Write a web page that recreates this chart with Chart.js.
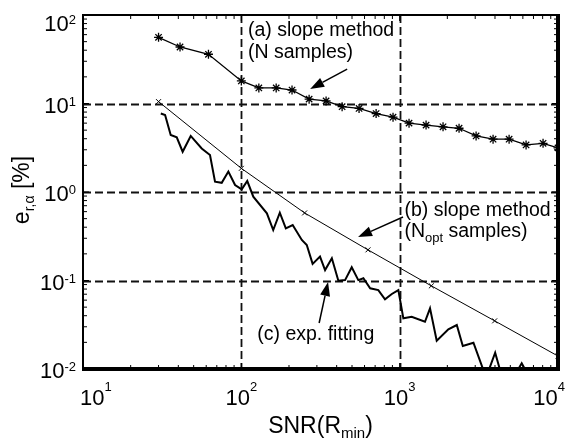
<!DOCTYPE html>
<html>
<head>
<meta charset="utf-8">
<script src="https://cdn.jsdelivr.net/npm/chart.js@4.4.1/dist/chart.umd.min.js"></script>
<style>
  body { margin:0; background:#fff; }
  canvas { display:block; }
</style>
</head>
<body>
<canvas id="grafico" width="565" height="441"></canvas>
<script>
    // Dados (SNR x erro em %)
    const snrA = [30, 41, 62, 100, 129, 166, 209, 268, 343, 433, 554, 710, 908, 1146, 1468, 1879, 2372, 3039, 3890, 4911, 6286, 8047, 10000];
    const errA = [56, 43.5, 36, 18, 15, 15, 14.2, 11.2, 10.7, 9.2, 8.8, 7.7, 7.0, 6.0, 5.7, 5.45, 5.25, 4.3, 3.95, 3.95, 3.4, 3.55, 3.15];

    const snrB = [30, 100, 251, 631, 1585, 3981, 10000];
    const errB = [10.5, 1.85, 0.58, 0.222, 0.087, 0.035, 0.014];

    const snrC = [31, 33, 35.8, 39.1, 42.6, 47.9, 56.2, 63.4, 68.2, 75.2, 82.8, 91.3, 100.6, 109, 119, 145, 159, 175, 191, 211,
                  241, 259, 282, 314, 338, 373, 410, 452, 498, 548, 590, 651, 733, 808, 892, 981, 1055, 1191, 1445, 1555,
                  1714, 2030, 2295, 2505, 2924, 3515, 4010, 4440, 5430, 5900, 6380, 10000];
    const errC = [7.7, 7.4, 4.4, 4.15, 2.85, 4.3, 3.1, 2.62, 1.31, 1.27, 1.70, 1.20, 1.07, 1.33, 0.885, 0.574, 0.372, 0.583, 0.389, 0.424,
                  0.287, 0.252, 0.154, 0.186, 0.131, 0.178, 0.0995, 0.101, 0.141, 0.101, 0.106, 0.0817, 0.078, 0.0614, 0.0704, 0.078,
                  0.0374, 0.039, 0.0342, 0.0485, 0.0209, 0.0281, 0.0314, 0.0182, 0.0198, 0.008, 0.0153, 0.008, 0.009, 0.0116, 0.009, 0.006];

    const xTicks = [10, 100, 1000, 10000];
    const xExp = ["1", "2", "3", "4"];
    const yTicks = [100, 10, 1, 0.1, 0.01];
    const yExp = ["2", "1", "0", "-1", "-2"];
    const xGrid = [100, 1000];
    const yGrid = [10, 1, 0.1];

    // Anotações (posição em coordenadas dos dados)
    const notas = [
      { x:110, y:57.9, dy:22, linhas:[[{t:"(a) slope method"}], [{t:"(N samples)"}]] },
      { x:1071, y:0.536, dy:21, linhas:[[{t:"(b) slope method"}], [{t:"(N"}, {t:"opt", sub:true}, {t:" samples)"}]] },
      { x:126, y:0.0213, dy:22, linhas:[[{t:"(c) exp. fitting"}]] }
    ];
    const setas = [
      { de:[466, 24.5], para:[272, 14.6] },
      { de:[1050, 0.522], para:[546, 0.31] },
      { de:[310, 0.0331], para:[353, 0.0962] }
    ];

    const FONTE = "'Liberation Sans', Arial, Helvetica, sans-serif";
    const fonte = s => s + "px " + FONTE;

    function textoRico(ctx, partes, x, y, tam, tamSub, desce, alinh) {
      let total = 0;
      partes.forEach(p => { ctx.font = fonte(p.sub ? tamSub : tam); p.w = ctx.measureText(p.t).width; total += p.w; });
      let cx = alinh === "center" ? x - total / 2 : (alinh === "right" ? x - total : x);
      ctx.textAlign = "left";
      ctx.textBaseline = "alphabetic";
      partes.forEach(p => {
        ctx.font = fonte(p.sub ? tamSub : tam);
        ctx.fillText(p.t, cx, y + (p.sub ? desce : 0));
        cx += p.w;
      });
      return total;
    }

    const pares = (xs, ys) => xs.map((v, i) => ({ x:v, y:ys[i] }));

    const eixos = {
      id: "eixos",
      beforeDatasetsDraw(chart) {
        const { ctx, chartArea:a, scales:{ x, y } } = chart;
        ctx.save();
        ctx.strokeStyle = "#111";
        ctx.lineWidth = 1.8;
        ctx.setLineDash([8, 4]);
        yGrid.forEach(v => {
          const py = Math.round(y.getPixelForValue(v)) + 0.5;
          ctx.beginPath(); ctx.moveTo(a.left, py); ctx.lineTo(a.right, py); ctx.stroke();
        });
        xGrid.forEach(v => {
          const px = Math.round(x.getPixelForValue(v)) + 0.5;
          ctx.beginPath(); ctx.moveTo(px, a.top); ctx.lineTo(px, a.bottom); ctx.stroke();
        });
        ctx.restore();
      },
      afterDatasetsDraw(chart) {
        const { ctx, chartArea:a, scales:{ x, y } } = chart;
        ctx.save();
        ctx.strokeStyle = "#000";
        ctx.fillStyle = "#000";
        ctx.setLineDash([]);

        // ticks menores e maiores
        ctx.lineWidth = 1;
        for (let d = 10; d < 10000; d *= 10) {
          for (let k = 1; k <= 9; k++) {
            const px = x.getPixelForValue(k * d);
            const len = k === 1 ? 6 : 4;
            ctx.beginPath();
            ctx.moveTo(px, a.bottom); ctx.lineTo(px, a.bottom - len);
            ctx.moveTo(px, a.top); ctx.lineTo(px, a.top + len);
            ctx.stroke();
          }
        }
        for (let d = 0.01; d < 99; d *= 10) {
          for (let k = 1; k <= 9; k++) {
            const py = y.getPixelForValue(k * d);
            const len = k === 1 ? 6 : 4;
            ctx.beginPath();
            ctx.moveTo(a.left, py); ctx.lineTo(a.left + len, py);
            ctx.moveTo(a.right, py); ctx.lineTo(a.right - len, py);
            ctx.stroke();
          }
        }

        // moldura
        ctx.lineWidth = 2;
        ctx.beginPath();
        ctx.moveTo(a.left, a.bottom); ctx.lineTo(a.left, a.top); ctx.lineTo(a.right, a.top);
        ctx.stroke();
        ctx.lineWidth = 4;
        ctx.beginPath();
        ctx.moveTo(a.left - 1, a.bottom); ctx.lineTo(a.right, a.bottom); ctx.lineTo(a.right, a.top - 1);
        ctx.stroke();

        // rótulos do eixo y
        yTicks.forEach((v, i) => {
          let py = y.getPixelForValue(v);
          if (py - 7 < a.top) py = a.top + 7;
          ctx.font = fonte(13);
          const we = ctx.measureText(yExp[i]).width;
          ctx.font = fonte(22);
          const wb = ctx.measureText("10").width;
          const fim = a.left - 7;
          ctx.textAlign = "left"; ctx.textBaseline = "alphabetic";
          ctx.fillText("10", fim - we - wb, py + 9);
          ctx.font = fonte(13);
          ctx.fillText(yExp[i], fim - we, py + 2);
        });

        // rótulos do eixo x
        xTicks.forEach((v, i) => {
          const px = x.getPixelForValue(v);
          ctx.font = fonte(13);
          const we = ctx.measureText(xExp[i]).width;
          ctx.font = fonte(22);
          const wb = ctx.measureText("10").width;
          let ini = px - (wb + we) / 2;
          ini = Math.max(ini, a.left - 3);
          ini = Math.min(ini, chart.width - (wb + we));
          ctx.textAlign = "left"; ctx.textBaseline = "alphabetic";
          ctx.fillText("10", ini, a.bottom + 36);
          ctx.font = fonte(13);
          ctx.fillText(xExp[i], ini + wb, a.bottom + 22);
        });

        // títulos
        textoRico(ctx, [{t:"SNR(R"}, {t:"min", sub:true}, {t:")"}], (a.left + a.right) / 2, 433, 23, 15, 5, "center");
        ctx.save();
        ctx.translate(29, 190);
        ctx.rotate(-Math.PI / 2);
        textoRico(ctx, [{t:"e"}, {t:"r,α", sub:true}, {t:" [%]"}], 0, 0, 23, 14, 5, "center");
        ctx.restore();

        // anotações
        notas.forEach(n => {
          const px = x.getPixelForValue(n.x);
          const py = y.getPixelForValue(n.y);
          n.linhas.forEach((l, j) => textoRico(ctx, l, px, py + j * n.dy, 19.5, 13, 5, "left"));
        });
        setas.forEach(s => {
          const x0 = x.getPixelForValue(s.de[0]), y0 = y.getPixelForValue(s.de[1]);
          const x1 = x.getPixelForValue(s.para[0]), y1 = y.getPixelForValue(s.para[1]);
          const ang = Math.atan2(y1 - y0, x1 - x0);
          const L = 14, W = 5;
          const bx = x1 - L * Math.cos(ang), by = y1 - L * Math.sin(ang);
          ctx.lineWidth = 1.5;
          ctx.beginPath(); ctx.moveTo(x0, y0); ctx.lineTo(bx, by); ctx.stroke();
          ctx.beginPath();
          ctx.moveTo(x1, y1);
          ctx.lineTo(bx + W * Math.sin(ang), by - W * Math.cos(ang));
          ctx.lineTo(bx - W * Math.sin(ang), by + W * Math.cos(ang));
          ctx.closePath(); ctx.fill();
        });
        ctx.restore();
      }
    };

    new Chart(document.getElementById("grafico"), {
      type: "line",
      data: {
        datasets: [
          { label:"(c) exp. fitting", data:pares(snrC, errC), borderColor:"#000", borderWidth:2, pointRadius:0, tension:0 },
          { label:"(b) slope method (Nopt samples)", data:pares(snrB, errB), borderColor:"#000", borderWidth:1, tension:0,
            pointStyle:"crossRot", pointRadius:3.5, pointBorderWidth:1, pointBorderColor:"#000" },
          { label:"(a) slope method (N samples)", data:pares(snrA, errA), borderColor:"#000", borderWidth:1.3, tension:0,
            pointStyle:"star", pointRadius:4.5, pointBorderWidth:1.3, pointBorderColor:"#000" }
        ]
      },
      options: {
        responsive:false,
        animation:false,
        devicePixelRatio:1,
        layout:{ padding:{ left:83, top:15, right:7, bottom:72 } },
        plugins:{ legend:{ display:false }, tooltip:{ enabled:false } },
        scales:{
          x:{ type:"logarithmic", min:10, max:10000, display:false },
          y:{ type:"logarithmic", min:0.01, max:100, display:false }
        }
      },
      plugins:[eixos]
    });
</script>
</body>
</html>
